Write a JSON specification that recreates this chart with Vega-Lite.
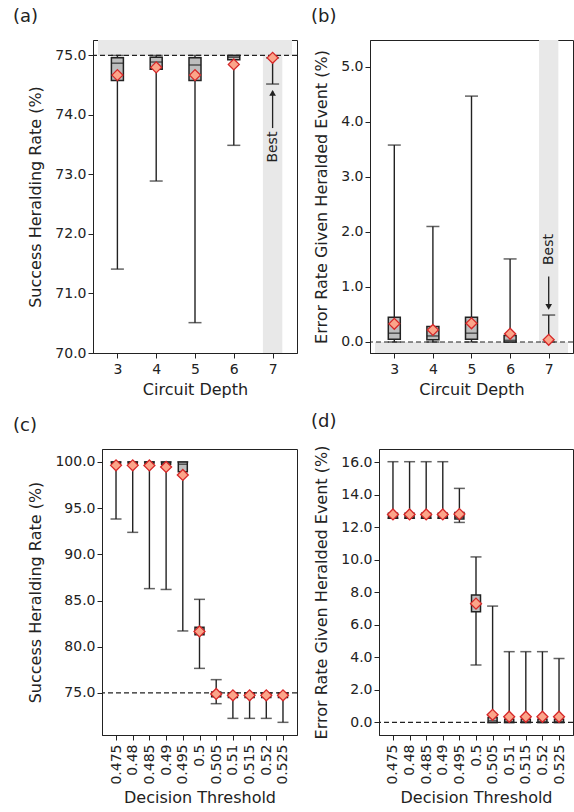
{
  "$schema": "https://vega.github.io/schema/vega-lite/v6.json",
  "autosize": {"type": "pad"},
  "padding": {"left": 0, "top": 7, "right": 5, "bottom": 5},
  "config": {
    "font": "DejaVu Sans",
    "view": {"stroke": "#222", "strokeWidth": 1},
    "axis": {"grid": false, "labelFont": "DejaVu Sans", "labelFontSize": 14, "labelColor": "#222", "titleFont": "DejaVu Sans", "titleFontSize": 16, "titleFontWeight": "normal", "titleColor": "#222", "tickColor": "#222", "domainColor": "#222", "tickSize": 5, "labelOverlap": false, "labelFlush": false},
    "axisX": {"labelPadding": 4, "titlePadding": 5},
    "axisY": {"labelPadding": 2, "titlePadding": 11},
    "title": {"font": "DejaVu Sans", "fontSize": 18, "fontWeight": "normal", "color": "#222", "anchor": "start", "frame": "group", "offset": 14, "baseline": "alphabetic"}
  },
  "datasets": {
    "a": [
      {"x": 3, "lo": 71.41, "q1": 74.58, "med": 74.87, "q3": 74.96, "hi": 75.0, "mean": 74.67},
      {"x": 4, "lo": 72.89, "q1": 74.77, "med": 74.89, "q3": 74.97, "hi": 75.0, "mean": 74.80},
      {"x": 5, "lo": 70.51, "q1": 74.58, "med": 74.84, "q3": 74.96, "hi": 75.0, "mean": 74.67},
      {"x": 6, "lo": 73.49, "q1": 74.93, "med": 74.97, "q3": 75.0, "hi": 75.0, "mean": 74.85},
      {"x": 7, "lo": 74.52, "q1": null, "med": null, "q3": null, "hi": 74.96, "mean": 74.96}
    ],
    "b": [
      {"x": 3, "lo": 0.0, "q1": 0.05, "med": 0.16, "q3": 0.45, "hi": 3.58, "mean": 0.33},
      {"x": 4, "lo": 0.0, "q1": 0.04, "med": 0.11, "q3": 0.28, "hi": 2.10, "mean": 0.22},
      {"x": 5, "lo": 0.0, "q1": 0.05, "med": 0.16, "q3": 0.45, "hi": 4.47, "mean": 0.34},
      {"x": 6, "lo": 0.0, "q1": 0.0, "med": 0.03, "q3": 0.12, "hi": 1.51, "mean": 0.15},
      {"x": 7, "lo": 0.0, "q1": null, "med": null, "q3": null, "hi": 0.49, "mean": 0.04}
    ],
    "c": [
      {"x": 0.475, "lo": 93.83, "q1": 99.85, "med": 99.95, "q3": 100.0, "hi": 100.0, "mean": 99.63},
      {"x": 0.48, "lo": 92.38, "q1": 99.85, "med": 99.95, "q3": 100.0, "hi": 100.0, "mean": 99.63},
      {"x": 0.485, "lo": 86.29, "q1": 99.85, "med": 99.95, "q3": 100.0, "hi": 100.0, "mean": 99.62},
      {"x": 0.49, "lo": 86.2, "q1": 99.75, "med": 99.9, "q3": 100.0, "hi": 100.0, "mean": 99.46},
      {"x": 0.495, "lo": 81.71, "q1": 98.95, "med": 99.75, "q3": 100.0, "hi": 100.0, "mean": 98.59},
      {"x": 0.5, "lo": 77.66, "q1": 81.3, "med": 81.7, "q3": 82.1, "hi": 85.13, "mean": 81.66},
      {"x": 0.505, "lo": 73.84, "q1": 74.6, "med": 74.9, "q3": 75.1, "hi": 76.44, "mean": 74.89},
      {"x": 0.51, "lo": 72.25, "q1": 74.5, "med": 74.8, "q3": 75.0, "hi": 75.0, "mean": 74.74},
      {"x": 0.515, "lo": 72.25, "q1": 74.5, "med": 74.8, "q3": 75.0, "hi": 75.0, "mean": 74.74},
      {"x": 0.52, "lo": 72.25, "q1": 74.5, "med": 74.8, "q3": 75.0, "hi": 75.0, "mean": 74.74},
      {"x": 0.525, "lo": 71.82, "q1": 74.5, "med": 74.8, "q3": 75.0, "hi": 75.0, "mean": 74.74}
    ],
    "d": [
      {"x": 0.475, "lo": 12.55, "q1": 12.55, "med": 12.6, "q3": 12.85, "hi": 16.02, "mean": 12.78},
      {"x": 0.48, "lo": 12.55, "q1": 12.55, "med": 12.6, "q3": 12.85, "hi": 16.02, "mean": 12.78},
      {"x": 0.485, "lo": 12.55, "q1": 12.55, "med": 12.6, "q3": 12.85, "hi": 16.02, "mean": 12.78},
      {"x": 0.49, "lo": 12.55, "q1": 12.55, "med": 12.6, "q3": 12.85, "hi": 16.02, "mean": 12.78},
      {"x": 0.495, "lo": 12.29, "q1": 12.5, "med": 12.6, "q3": 12.9, "hi": 14.38, "mean": 12.8},
      {"x": 0.5, "lo": 3.53, "q1": 6.8, "med": 7.4, "q3": 7.83, "hi": 10.17, "mean": 7.3},
      {"x": 0.505, "lo": 0.0, "q1": 0.0, "med": 0.1, "q3": 0.3, "hi": 7.15, "mean": 0.47},
      {"x": 0.51, "lo": 0.0, "q1": 0.0, "med": 0.05, "q3": 0.2, "hi": 4.35, "mean": 0.35},
      {"x": 0.515, "lo": 0.0, "q1": 0.0, "med": 0.05, "q3": 0.2, "hi": 4.35, "mean": 0.35},
      {"x": 0.52, "lo": 0.0, "q1": 0.0, "med": 0.05, "q3": 0.2, "hi": 4.35, "mean": 0.35},
      {"x": 0.525, "lo": 0.0, "q1": 0.0, "med": 0.05, "q3": 0.2, "hi": 3.93, "mean": 0.35}
    ]
  },
  "spacing": 14,
  "vconcat": [
    {
      "spacing": 11,
      "hconcat": [
        {"width": 1, "height": 313, "view": {"stroke": null}, "data": {"values": [{}]}, "mark": {"type": "point", "opacity": 0, "size": 0}},
        {
          "width": 204, "height": 313,
          "title": {"text": "(a)", "dx": -80},
          "layer": [
            {"data": {"values": [{}]}, "mark": {"type": "rect", "color": "#e8e8e8"},
             "encoding": {"x": {"datum": 2.5, "type": "quantitative", "scale": {"domain": [2.5, 7.5], "nice": false, "zero": false}, "axis": {"values": [3, 4, 5, 6, 7], "format": "d", "title": "Circuit Depth"}}, "x2": {"datum": 7.5},
                          "y": {"datum": 75, "type": "quantitative", "scale": {"domain": [70, 75.26], "nice": false, "zero": false}, "axis": {"values": [70, 71, 72, 73, 74, 75], "format": ".1f", "title": "Success Heralding Rate (%)"}}, "y2": {"datum": 75.26}}},
            {"data": {"values": [{}]}, "mark": {"type": "rect", "color": "#e8e8e8"},
             "encoding": {"x": {"datum": 6.75, "type": "quantitative", "scale": {"domain": [2.5, 7.5], "nice": false, "zero": false}, "axis": {"values": [3, 4, 5, 6, 7], "format": "d", "title": "Circuit Depth"}}, "x2": {"datum": 7.25},
                          "y": {"datum": 70, "type": "quantitative", "scale": {"domain": [70, 75.26], "nice": false, "zero": false}, "axis": {"values": [70, 71, 72, 73, 74, 75], "format": ".1f", "title": "Success Heralding Rate (%)"}}, "y2": {"datum": 75.26}}},
            {"data": {"values": [{}]}, "mark": {"type": "rule", "color": "#222", "strokeWidth": 1.2, "strokeDash": [5, 3]},
             "encoding": {"y": {"datum": 75, "type": "quantitative", "scale": {"domain": [70, 75.26], "nice": false, "zero": false}, "axis": {"values": [70, 71, 72, 73, 74, 75], "format": ".1f", "title": "Success Heralding Rate (%)"}}}},
            {"data": {"name": "a"}, "mark": {"type": "rule", "color": "#222", "strokeWidth": 1.4},
             "encoding": {"x": {"field": "x", "type": "quantitative", "scale": {"domain": [2.5, 7.5], "nice": false, "zero": false}, "axis": {"values": [3, 4, 5, 6, 7], "format": "d", "title": "Circuit Depth"}},
                          "y": {"field": "lo", "type": "quantitative", "scale": {"domain": [70, 75.26], "nice": false, "zero": false}, "axis": {"values": [70, 71, 72, 73, 74, 75], "format": ".1f", "title": "Success Heralding Rate (%)"}}, "y2": {"field": "hi"}}},
            {"data": {"name": "a"}, "mark": {"type": "tick", "orient": "horizontal", "color": "#222", "size": 13, "thickness": 1.5},
             "encoding": {"x": {"field": "x", "type": "quantitative", "scale": {"domain": [2.5, 7.5], "nice": false, "zero": false}, "axis": {"values": [3, 4, 5, 6, 7], "format": "d", "title": "Circuit Depth"}},
                          "y": {"field": "lo", "type": "quantitative", "scale": {"domain": [70, 75.26], "nice": false, "zero": false}, "axis": {"values": [70, 71, 72, 73, 74, 75], "format": ".1f", "title": "Success Heralding Rate (%)"}}}},
            {"data": {"name": "a"}, "mark": {"type": "tick", "orient": "horizontal", "color": "#222", "size": 13, "thickness": 1.5},
             "encoding": {"x": {"field": "x", "type": "quantitative", "scale": {"domain": [2.5, 7.5], "nice": false, "zero": false}, "axis": {"values": [3, 4, 5, 6, 7], "format": "d", "title": "Circuit Depth"}},
                          "y": {"field": "hi", "type": "quantitative", "scale": {"domain": [70, 75.26], "nice": false, "zero": false}, "axis": {"values": [70, 71, 72, 73, 74, 75], "format": ".1f", "title": "Success Heralding Rate (%)"}}}},
            {"data": {"name": "a"}, "mark": {"type": "bar", "size": 12, "fill": "#bdbdbd", "stroke": "#222", "strokeWidth": 1.5},
             "encoding": {"x": {"field": "x", "type": "quantitative", "scale": {"domain": [2.5, 7.5], "nice": false, "zero": false}, "axis": {"values": [3, 4, 5, 6, 7], "format": "d", "title": "Circuit Depth"}},
                          "y": {"field": "q1", "type": "quantitative", "scale": {"domain": [70, 75.26], "nice": false, "zero": false}, "axis": {"values": [70, 71, 72, 73, 74, 75], "format": ".1f", "title": "Success Heralding Rate (%)"}}, "y2": {"field": "q3"}}},
            {"data": {"name": "a"}, "mark": {"type": "tick", "orient": "horizontal", "color": "#222", "size": 12, "thickness": 1.5},
             "encoding": {"x": {"field": "x", "type": "quantitative", "scale": {"domain": [2.5, 7.5], "nice": false, "zero": false}, "axis": {"values": [3, 4, 5, 6, 7], "format": "d", "title": "Circuit Depth"}},
                          "y": {"field": "med", "type": "quantitative", "scale": {"domain": [70, 75.26], "nice": false, "zero": false}, "axis": {"values": [70, 71, 72, 73, 74, 75], "format": ".1f", "title": "Success Heralding Rate (%)"}}}},
            {"data": {"name": "a"}, "mark": {"type": "point", "shape": "diamond", "filled": true, "size": 120, "fill": "#fba58a", "stroke": "#d62728", "strokeWidth": 1.3, "opacity": 1},
             "encoding": {"x": {"field": "x", "type": "quantitative", "scale": {"domain": [2.5, 7.5], "nice": false, "zero": false}, "axis": {"values": [3, 4, 5, 6, 7], "format": "d", "title": "Circuit Depth"}},
                          "y": {"field": "mean", "type": "quantitative", "scale": {"domain": [70, 75.26], "nice": false, "zero": false}, "axis": {"values": [70, 71, 72, 73, 74, 75], "format": ".1f", "title": "Success Heralding Rate (%)"}}}},
            {"data": {"values": [{"x": 7, "y": 73.46, "t": "Best"}]}, "mark": {"type": "text", "angle": 270, "fontSize": 14, "color": "#222", "align": "center", "baseline": "middle"},
             "encoding": {"x": {"field": "x", "type": "quantitative", "scale": {"domain": [2.5, 7.5], "nice": false, "zero": false}, "axis": {"values": [3, 4, 5, 6, 7], "format": "d", "title": "Circuit Depth"}},
                          "y": {"field": "y", "type": "quantitative", "scale": {"domain": [70, 75.26], "nice": false, "zero": false}, "axis": {"values": [70, 71, 72, 73, 74, 75], "format": ".1f", "title": "Success Heralding Rate (%)"}}, "text": {"field": "t"}}},
            {"data": {"values": [{"x": 7, "y1": 73.78, "y2": 74.40}]}, "mark": {"type": "rule", "color": "#222", "strokeWidth": 1.3},
             "encoding": {"x": {"field": "x", "type": "quantitative", "scale": {"domain": [2.5, 7.5], "nice": false, "zero": false}, "axis": {"values": [3, 4, 5, 6, 7], "format": "d", "title": "Circuit Depth"}},
                          "y": {"field": "y1", "type": "quantitative", "scale": {"domain": [70, 75.26], "nice": false, "zero": false}, "axis": {"values": [70, 71, 72, 73, 74, 75], "format": ".1f", "title": "Success Heralding Rate (%)"}}, "y2": {"field": "y2"}}},
            {"data": {"values": [{"x": 7, "y": 74.37}]}, "mark": {"type": "point", "shape": "triangle-up", "filled": true, "size": 45, "color": "#222", "opacity": 1},
             "encoding": {"x": {"field": "x", "type": "quantitative", "scale": {"domain": [2.5, 7.5], "nice": false, "zero": false}, "axis": {"values": [3, 4, 5, 6, 7], "format": "d", "title": "Circuit Depth"}},
                          "y": {"field": "y", "type": "quantitative", "scale": {"domain": [70, 75.26], "nice": false, "zero": false}, "axis": {"values": [70, 71, 72, 73, 74, 75], "format": ".1f", "title": "Success Heralding Rate (%)"}}}}
          ]
        },
        {
          "width": 203, "height": 313,
          "title": {"text": "(b)", "dx": -59},
          "layer": [
            {"data": {"values": [{}]}, "mark": {"type": "rect", "color": "#e8e8e8"},
             "encoding": {"x": {"datum": 2.5, "type": "quantitative", "scale": {"domain": [2.5, 7.5], "nice": false, "zero": false}, "axis": {"values": [3, 4, 5, 6, 7], "format": "d", "title": "Circuit Depth"}}, "x2": {"datum": 7.5},
                          "y": {"datum": -0.2, "type": "quantitative", "scale": {"domain": [-0.2, 5.49], "nice": false, "zero": false}, "axis": {"values": [0, 1, 2, 3, 4, 5], "format": ".1f", "title": "Error Rate Given Heralded Event (%)"}}, "y2": {"datum": 0}}},
            {"data": {"values": [{}]}, "mark": {"type": "rect", "color": "#e8e8e8"},
             "encoding": {"x": {"datum": 6.75, "type": "quantitative", "scale": {"domain": [2.5, 7.5], "nice": false, "zero": false}, "axis": {"values": [3, 4, 5, 6, 7], "format": "d", "title": "Circuit Depth"}}, "x2": {"datum": 7.25},
                          "y": {"datum": -0.2, "type": "quantitative", "scale": {"domain": [-0.2, 5.49], "nice": false, "zero": false}, "axis": {"values": [0, 1, 2, 3, 4, 5], "format": ".1f", "title": "Error Rate Given Heralded Event (%)"}}, "y2": {"datum": 5.49}}},
            {"data": {"values": [{}]}, "mark": {"type": "rule", "color": "#222", "strokeWidth": 1.2, "strokeDash": [5, 3]},
             "encoding": {"y": {"datum": 0, "type": "quantitative", "scale": {"domain": [-0.2, 5.49], "nice": false, "zero": false}, "axis": {"values": [0, 1, 2, 3, 4, 5], "format": ".1f", "title": "Error Rate Given Heralded Event (%)"}}}},
            {"data": {"name": "b"}, "mark": {"type": "rule", "color": "#222", "strokeWidth": 1.4},
             "encoding": {"x": {"field": "x", "type": "quantitative", "scale": {"domain": [2.5, 7.5], "nice": false, "zero": false}, "axis": {"values": [3, 4, 5, 6, 7], "format": "d", "title": "Circuit Depth"}},
                          "y": {"field": "lo", "type": "quantitative", "scale": {"domain": [-0.2, 5.49], "nice": false, "zero": false}, "axis": {"values": [0, 1, 2, 3, 4, 5], "format": ".1f", "title": "Error Rate Given Heralded Event (%)"}}, "y2": {"field": "hi"}}},
            {"data": {"name": "b"}, "mark": {"type": "tick", "orient": "horizontal", "color": "#222", "size": 13, "thickness": 1.5},
             "encoding": {"x": {"field": "x", "type": "quantitative", "scale": {"domain": [2.5, 7.5], "nice": false, "zero": false}, "axis": {"values": [3, 4, 5, 6, 7], "format": "d", "title": "Circuit Depth"}},
                          "y": {"field": "lo", "type": "quantitative", "scale": {"domain": [-0.2, 5.49], "nice": false, "zero": false}, "axis": {"values": [0, 1, 2, 3, 4, 5], "format": ".1f", "title": "Error Rate Given Heralded Event (%)"}}}},
            {"data": {"name": "b"}, "mark": {"type": "tick", "orient": "horizontal", "color": "#222", "size": 13, "thickness": 1.5},
             "encoding": {"x": {"field": "x", "type": "quantitative", "scale": {"domain": [2.5, 7.5], "nice": false, "zero": false}, "axis": {"values": [3, 4, 5, 6, 7], "format": "d", "title": "Circuit Depth"}},
                          "y": {"field": "hi", "type": "quantitative", "scale": {"domain": [-0.2, 5.49], "nice": false, "zero": false}, "axis": {"values": [0, 1, 2, 3, 4, 5], "format": ".1f", "title": "Error Rate Given Heralded Event (%)"}}}},
            {"data": {"name": "b"}, "mark": {"type": "bar", "size": 12, "fill": "#bdbdbd", "stroke": "#222", "strokeWidth": 1.5},
             "encoding": {"x": {"field": "x", "type": "quantitative", "scale": {"domain": [2.5, 7.5], "nice": false, "zero": false}, "axis": {"values": [3, 4, 5, 6, 7], "format": "d", "title": "Circuit Depth"}},
                          "y": {"field": "q1", "type": "quantitative", "scale": {"domain": [-0.2, 5.49], "nice": false, "zero": false}, "axis": {"values": [0, 1, 2, 3, 4, 5], "format": ".1f", "title": "Error Rate Given Heralded Event (%)"}}, "y2": {"field": "q3"}}},
            {"data": {"name": "b"}, "mark": {"type": "tick", "orient": "horizontal", "color": "#222", "size": 12, "thickness": 1.5},
             "encoding": {"x": {"field": "x", "type": "quantitative", "scale": {"domain": [2.5, 7.5], "nice": false, "zero": false}, "axis": {"values": [3, 4, 5, 6, 7], "format": "d", "title": "Circuit Depth"}},
                          "y": {"field": "med", "type": "quantitative", "scale": {"domain": [-0.2, 5.49], "nice": false, "zero": false}, "axis": {"values": [0, 1, 2, 3, 4, 5], "format": ".1f", "title": "Error Rate Given Heralded Event (%)"}}}},
            {"data": {"name": "b"}, "mark": {"type": "point", "shape": "diamond", "filled": true, "size": 120, "fill": "#fba58a", "stroke": "#d62728", "strokeWidth": 1.3, "opacity": 1},
             "encoding": {"x": {"field": "x", "type": "quantitative", "scale": {"domain": [2.5, 7.5], "nice": false, "zero": false}, "axis": {"values": [3, 4, 5, 6, 7], "format": "d", "title": "Circuit Depth"}},
                          "y": {"field": "mean", "type": "quantitative", "scale": {"domain": [-0.2, 5.49], "nice": false, "zero": false}, "axis": {"values": [0, 1, 2, 3, 4, 5], "format": ".1f", "title": "Error Rate Given Heralded Event (%)"}}}},
            {"data": {"values": [{"x": 7, "y": 1.68, "t": "Best"}]}, "mark": {"type": "text", "angle": 270, "fontSize": 14, "color": "#222", "align": "center", "baseline": "middle"},
             "encoding": {"x": {"field": "x", "type": "quantitative", "scale": {"domain": [2.5, 7.5], "nice": false, "zero": false}, "axis": {"values": [3, 4, 5, 6, 7], "format": "d", "title": "Circuit Depth"}},
                          "y": {"field": "y", "type": "quantitative", "scale": {"domain": [-0.2, 5.49], "nice": false, "zero": false}, "axis": {"values": [0, 1, 2, 3, 4, 5], "format": ".1f", "title": "Error Rate Given Heralded Event (%)"}}, "text": {"field": "t"}}},
            {"data": {"values": [{"x": 7, "y1": 1.19, "y2": 0.66}]}, "mark": {"type": "rule", "color": "#222", "strokeWidth": 1.3},
             "encoding": {"x": {"field": "x", "type": "quantitative", "scale": {"domain": [2.5, 7.5], "nice": false, "zero": false}, "axis": {"values": [3, 4, 5, 6, 7], "format": "d", "title": "Circuit Depth"}},
                          "y": {"field": "y1", "type": "quantitative", "scale": {"domain": [-0.2, 5.49], "nice": false, "zero": false}, "axis": {"values": [0, 1, 2, 3, 4, 5], "format": ".1f", "title": "Error Rate Given Heralded Event (%)"}}, "y2": {"field": "y2"}}},
            {"data": {"values": [{"x": 7, "y": 0.64}]}, "mark": {"type": "point", "shape": "triangle-down", "filled": true, "size": 45, "color": "#222", "opacity": 1},
             "encoding": {"x": {"field": "x", "type": "quantitative", "scale": {"domain": [2.5, 7.5], "nice": false, "zero": false}, "axis": {"values": [3, 4, 5, 6, 7], "format": "d", "title": "Circuit Depth"}},
                          "y": {"field": "y", "type": "quantitative", "scale": {"domain": [-0.2, 5.49], "nice": false, "zero": false}, "axis": {"values": [0, 1, 2, 3, 4, 5], "format": ".1f", "title": "Error Rate Given Heralded Event (%)"}}}}
          ]
        }
      ]
    },
    {
      "spacing": 11,
      "hconcat": [
        {"width": 1, "height": 286, "view": {"stroke": null}, "data": {"values": [{}]}, "mark": {"type": "point", "opacity": 0, "size": 0}},
        {
          "width": 195, "height": 286,
          "title": {"text": "(c)", "dx": -89},
          "layer": [
            {"data": {"values": [{}]}, "mark": {"type": "rule", "color": "#222", "strokeWidth": 1.2, "strokeDash": [5, 3]},
             "encoding": {"y": {"datum": 75, "type": "quantitative", "scale": {"domain": [70.45, 101.4], "nice": false, "zero": false}, "axis": {"values": [75, 80, 85, 90, 95, 100], "format": ".1f", "title": "Success Heralding Rate (%)"}}}},
            {"data": {"name": "c"}, "mark": {"type": "rule", "color": "#222", "strokeWidth": 1.4},
             "encoding": {"x": {"field": "x", "type": "quantitative", "scale": {"domain": [0.4723, 0.5277], "nice": false, "zero": false}, "axis": {"values": [0.475, 0.48, 0.485, 0.49, 0.495, 0.5, 0.505, 0.51, 0.515, 0.52, 0.525], "format": "~g", "labelAngle": 270, "title": "Decision Threshold"}},
                          "y": {"field": "lo", "type": "quantitative", "scale": {"domain": [70.45, 101.4], "nice": false, "zero": false}, "axis": {"values": [75, 80, 85, 90, 95, 100], "format": ".1f", "title": "Success Heralding Rate (%)"}}, "y2": {"field": "hi"}}},
            {"data": {"name": "c"}, "mark": {"type": "tick", "orient": "horizontal", "color": "#222", "size": 11, "thickness": 1.5},
             "encoding": {"x": {"field": "x", "type": "quantitative", "scale": {"domain": [0.4723, 0.5277], "nice": false, "zero": false}, "axis": {"values": [0.475, 0.48, 0.485, 0.49, 0.495, 0.5, 0.505, 0.51, 0.515, 0.52, 0.525], "format": "~g", "labelAngle": 270, "title": "Decision Threshold"}},
                          "y": {"field": "lo", "type": "quantitative", "scale": {"domain": [70.45, 101.4], "nice": false, "zero": false}, "axis": {"values": [75, 80, 85, 90, 95, 100], "format": ".1f", "title": "Success Heralding Rate (%)"}}}},
            {"data": {"name": "c"}, "mark": {"type": "tick", "orient": "horizontal", "color": "#222", "size": 11, "thickness": 1.5},
             "encoding": {"x": {"field": "x", "type": "quantitative", "scale": {"domain": [0.4723, 0.5277], "nice": false, "zero": false}, "axis": {"values": [0.475, 0.48, 0.485, 0.49, 0.495, 0.5, 0.505, 0.51, 0.515, 0.52, 0.525], "format": "~g", "labelAngle": 270, "title": "Decision Threshold"}},
                          "y": {"field": "hi", "type": "quantitative", "scale": {"domain": [70.45, 101.4], "nice": false, "zero": false}, "axis": {"values": [75, 80, 85, 90, 95, 100], "format": ".1f", "title": "Success Heralding Rate (%)"}}}},
            {"data": {"name": "c"}, "mark": {"type": "bar", "size": 9, "fill": "#bdbdbd", "stroke": "#222", "strokeWidth": 1.5},
             "encoding": {"x": {"field": "x", "type": "quantitative", "scale": {"domain": [0.4723, 0.5277], "nice": false, "zero": false}, "axis": {"values": [0.475, 0.48, 0.485, 0.49, 0.495, 0.5, 0.505, 0.51, 0.515, 0.52, 0.525], "format": "~g", "labelAngle": 270, "title": "Decision Threshold"}},
                          "y": {"field": "q1", "type": "quantitative", "scale": {"domain": [70.45, 101.4], "nice": false, "zero": false}, "axis": {"values": [75, 80, 85, 90, 95, 100], "format": ".1f", "title": "Success Heralding Rate (%)"}}, "y2": {"field": "q3"}}},
            {"data": {"name": "c"}, "mark": {"type": "tick", "orient": "horizontal", "color": "#222", "size": 9, "thickness": 1.5},
             "encoding": {"x": {"field": "x", "type": "quantitative", "scale": {"domain": [0.4723, 0.5277], "nice": false, "zero": false}, "axis": {"values": [0.475, 0.48, 0.485, 0.49, 0.495, 0.5, 0.505, 0.51, 0.515, 0.52, 0.525], "format": "~g", "labelAngle": 270, "title": "Decision Threshold"}},
                          "y": {"field": "med", "type": "quantitative", "scale": {"domain": [70.45, 101.4], "nice": false, "zero": false}, "axis": {"values": [75, 80, 85, 90, 95, 100], "format": ".1f", "title": "Success Heralding Rate (%)"}}}},
            {"data": {"name": "c"}, "mark": {"type": "point", "shape": "diamond", "filled": true, "size": 120, "fill": "#fba58a", "stroke": "#d62728", "strokeWidth": 1.3, "opacity": 1},
             "encoding": {"x": {"field": "x", "type": "quantitative", "scale": {"domain": [0.4723, 0.5277], "nice": false, "zero": false}, "axis": {"values": [0.475, 0.48, 0.485, 0.49, 0.495, 0.5, 0.505, 0.51, 0.515, 0.52, 0.525], "format": "~g", "labelAngle": 270, "title": "Decision Threshold"}},
                          "y": {"field": "mean", "type": "quantitative", "scale": {"domain": [70.45, 101.4], "nice": false, "zero": false}, "axis": {"values": [75, 80, 85, 90, 95, 100], "format": ".1f", "title": "Success Heralding Rate (%)"}}}}
          ]
        },
        {
          "width": 194, "height": 286,
          "title": {"text": "(d)", "dx": -68},
          "layer": [
            {"data": {"values": [{}]}, "mark": {"type": "rule", "color": "#222", "strokeWidth": 1.2, "strokeDash": [5, 3]},
             "encoding": {"y": {"datum": 0, "type": "quantitative", "scale": {"domain": [-0.77, 16.8], "nice": false, "zero": false}, "axis": {"values": [0, 2, 4, 6, 8, 10, 12, 14, 16], "format": ".1f", "title": "Error Rate Given Heralded Event (%)"}}}},
            {"data": {"name": "d"}, "mark": {"type": "rule", "color": "#222", "strokeWidth": 1.4},
             "encoding": {"x": {"field": "x", "type": "quantitative", "scale": {"domain": [0.4723, 0.5277], "nice": false, "zero": false}, "axis": {"values": [0.475, 0.48, 0.485, 0.49, 0.495, 0.5, 0.505, 0.51, 0.515, 0.52, 0.525], "format": "~g", "labelAngle": 270, "title": "Decision Threshold"}},
                          "y": {"field": "lo", "type": "quantitative", "scale": {"domain": [-0.77, 16.8], "nice": false, "zero": false}, "axis": {"values": [0, 2, 4, 6, 8, 10, 12, 14, 16], "format": ".1f", "title": "Error Rate Given Heralded Event (%)"}}, "y2": {"field": "hi"}}},
            {"data": {"name": "d"}, "mark": {"type": "tick", "orient": "horizontal", "color": "#222", "size": 11, "thickness": 1.5},
             "encoding": {"x": {"field": "x", "type": "quantitative", "scale": {"domain": [0.4723, 0.5277], "nice": false, "zero": false}, "axis": {"values": [0.475, 0.48, 0.485, 0.49, 0.495, 0.5, 0.505, 0.51, 0.515, 0.52, 0.525], "format": "~g", "labelAngle": 270, "title": "Decision Threshold"}},
                          "y": {"field": "lo", "type": "quantitative", "scale": {"domain": [-0.77, 16.8], "nice": false, "zero": false}, "axis": {"values": [0, 2, 4, 6, 8, 10, 12, 14, 16], "format": ".1f", "title": "Error Rate Given Heralded Event (%)"}}}},
            {"data": {"name": "d"}, "mark": {"type": "tick", "orient": "horizontal", "color": "#222", "size": 11, "thickness": 1.5},
             "encoding": {"x": {"field": "x", "type": "quantitative", "scale": {"domain": [0.4723, 0.5277], "nice": false, "zero": false}, "axis": {"values": [0.475, 0.48, 0.485, 0.49, 0.495, 0.5, 0.505, 0.51, 0.515, 0.52, 0.525], "format": "~g", "labelAngle": 270, "title": "Decision Threshold"}},
                          "y": {"field": "hi", "type": "quantitative", "scale": {"domain": [-0.77, 16.8], "nice": false, "zero": false}, "axis": {"values": [0, 2, 4, 6, 8, 10, 12, 14, 16], "format": ".1f", "title": "Error Rate Given Heralded Event (%)"}}}},
            {"data": {"name": "d"}, "mark": {"type": "bar", "size": 9, "fill": "#bdbdbd", "stroke": "#222", "strokeWidth": 1.5},
             "encoding": {"x": {"field": "x", "type": "quantitative", "scale": {"domain": [0.4723, 0.5277], "nice": false, "zero": false}, "axis": {"values": [0.475, 0.48, 0.485, 0.49, 0.495, 0.5, 0.505, 0.51, 0.515, 0.52, 0.525], "format": "~g", "labelAngle": 270, "title": "Decision Threshold"}},
                          "y": {"field": "q1", "type": "quantitative", "scale": {"domain": [-0.77, 16.8], "nice": false, "zero": false}, "axis": {"values": [0, 2, 4, 6, 8, 10, 12, 14, 16], "format": ".1f", "title": "Error Rate Given Heralded Event (%)"}}, "y2": {"field": "q3"}}},
            {"data": {"name": "d"}, "mark": {"type": "tick", "orient": "horizontal", "color": "#222", "size": 9, "thickness": 1.5},
             "encoding": {"x": {"field": "x", "type": "quantitative", "scale": {"domain": [0.4723, 0.5277], "nice": false, "zero": false}, "axis": {"values": [0.475, 0.48, 0.485, 0.49, 0.495, 0.5, 0.505, 0.51, 0.515, 0.52, 0.525], "format": "~g", "labelAngle": 270, "title": "Decision Threshold"}},
                          "y": {"field": "med", "type": "quantitative", "scale": {"domain": [-0.77, 16.8], "nice": false, "zero": false}, "axis": {"values": [0, 2, 4, 6, 8, 10, 12, 14, 16], "format": ".1f", "title": "Error Rate Given Heralded Event (%)"}}}},
            {"data": {"name": "d"}, "mark": {"type": "point", "shape": "diamond", "filled": true, "size": 120, "fill": "#fba58a", "stroke": "#d62728", "strokeWidth": 1.3, "opacity": 1},
             "encoding": {"x": {"field": "x", "type": "quantitative", "scale": {"domain": [0.4723, 0.5277], "nice": false, "zero": false}, "axis": {"values": [0.475, 0.48, 0.485, 0.49, 0.495, 0.5, 0.505, 0.51, 0.515, 0.52, 0.525], "format": "~g", "labelAngle": 270, "title": "Decision Threshold"}},
                          "y": {"field": "mean", "type": "quantitative", "scale": {"domain": [-0.77, 16.8], "nice": false, "zero": false}, "axis": {"values": [0, 2, 4, 6, 8, 10, 12, 14, 16], "format": ".1f", "title": "Error Rate Given Heralded Event (%)"}}}}
          ]
        }
      ]
    }
  ]
}
